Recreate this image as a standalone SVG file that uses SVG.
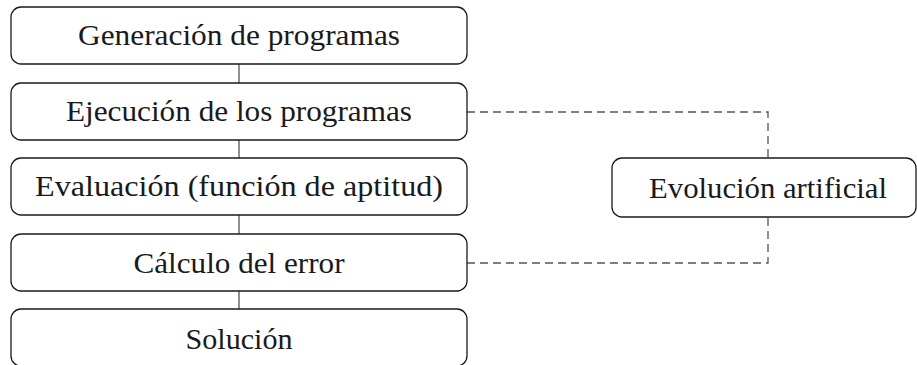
<svg xmlns="http://www.w3.org/2000/svg" width="917" height="365" viewBox="0 0 917 365">
  <style>
    .box { fill: #ffffff; stroke: #1a1a1a; stroke-width: 1.3; }
    .lbl { font-family: "Liberation Serif", "DejaVu Serif", serif; font-size: 30px; fill: #1a1a1a; text-anchor: middle; }
    .link { fill: none; stroke: #555555; stroke-width: 1.3; }
    .dash { stroke-dasharray: 8 5; }
  </style>
  <g id="connectors">
    <line class="link" x1="239" y1="64" x2="239" y2="83"/>
    <line class="link" x1="239" y1="140" x2="239" y2="158"/>
    <line class="link" x1="239" y1="215" x2="239" y2="234"/>
    <line class="link" x1="239" y1="291" x2="239" y2="309"/>
    <polyline class="link dash" points="467,112 768,112 768,158"/>
    <polyline class="link dash" points="467,263 768,263 768,217"/>
  </g>
  <g id="generacion">
    <rect class="box" x="11" y="7" width="456" height="57" rx="10"/>
    <text class="lbl" x="239" y="45" textLength="322" lengthAdjust="spacingAndGlyphs">Generación de programas</text>
  </g>
  <g id="ejecucion">
    <rect class="box" x="11" y="83" width="456" height="57" rx="10"/>
    <text class="lbl" x="239" y="121" textLength="346" lengthAdjust="spacingAndGlyphs">Ejecución de los programas</text>
  </g>
  <g id="evaluacion">
    <rect class="box" x="11" y="158" width="456" height="57" rx="10"/>
    <text class="lbl" x="239" y="196" textLength="408" lengthAdjust="spacingAndGlyphs">Evaluación (función de aptitud)</text>
  </g>
  <g id="calculo">
    <rect class="box" x="11" y="234" width="456" height="57" rx="10"/>
    <text class="lbl" x="239" y="273" textLength="211" lengthAdjust="spacingAndGlyphs">Cálculo del error</text>
  </g>
  <g id="solucion">
    <rect class="box" x="11" y="309" width="456" height="57" rx="10"/>
    <text class="lbl" x="239" y="349" textLength="107" lengthAdjust="spacingAndGlyphs">Solución</text>
  </g>
  <g id="evolucion">
    <rect class="box" x="612" y="158" width="304" height="59" rx="10"/>
    <text class="lbl" x="768" y="198" textLength="238" lengthAdjust="spacingAndGlyphs">Evolución artificial</text>
  </g>
</svg>
